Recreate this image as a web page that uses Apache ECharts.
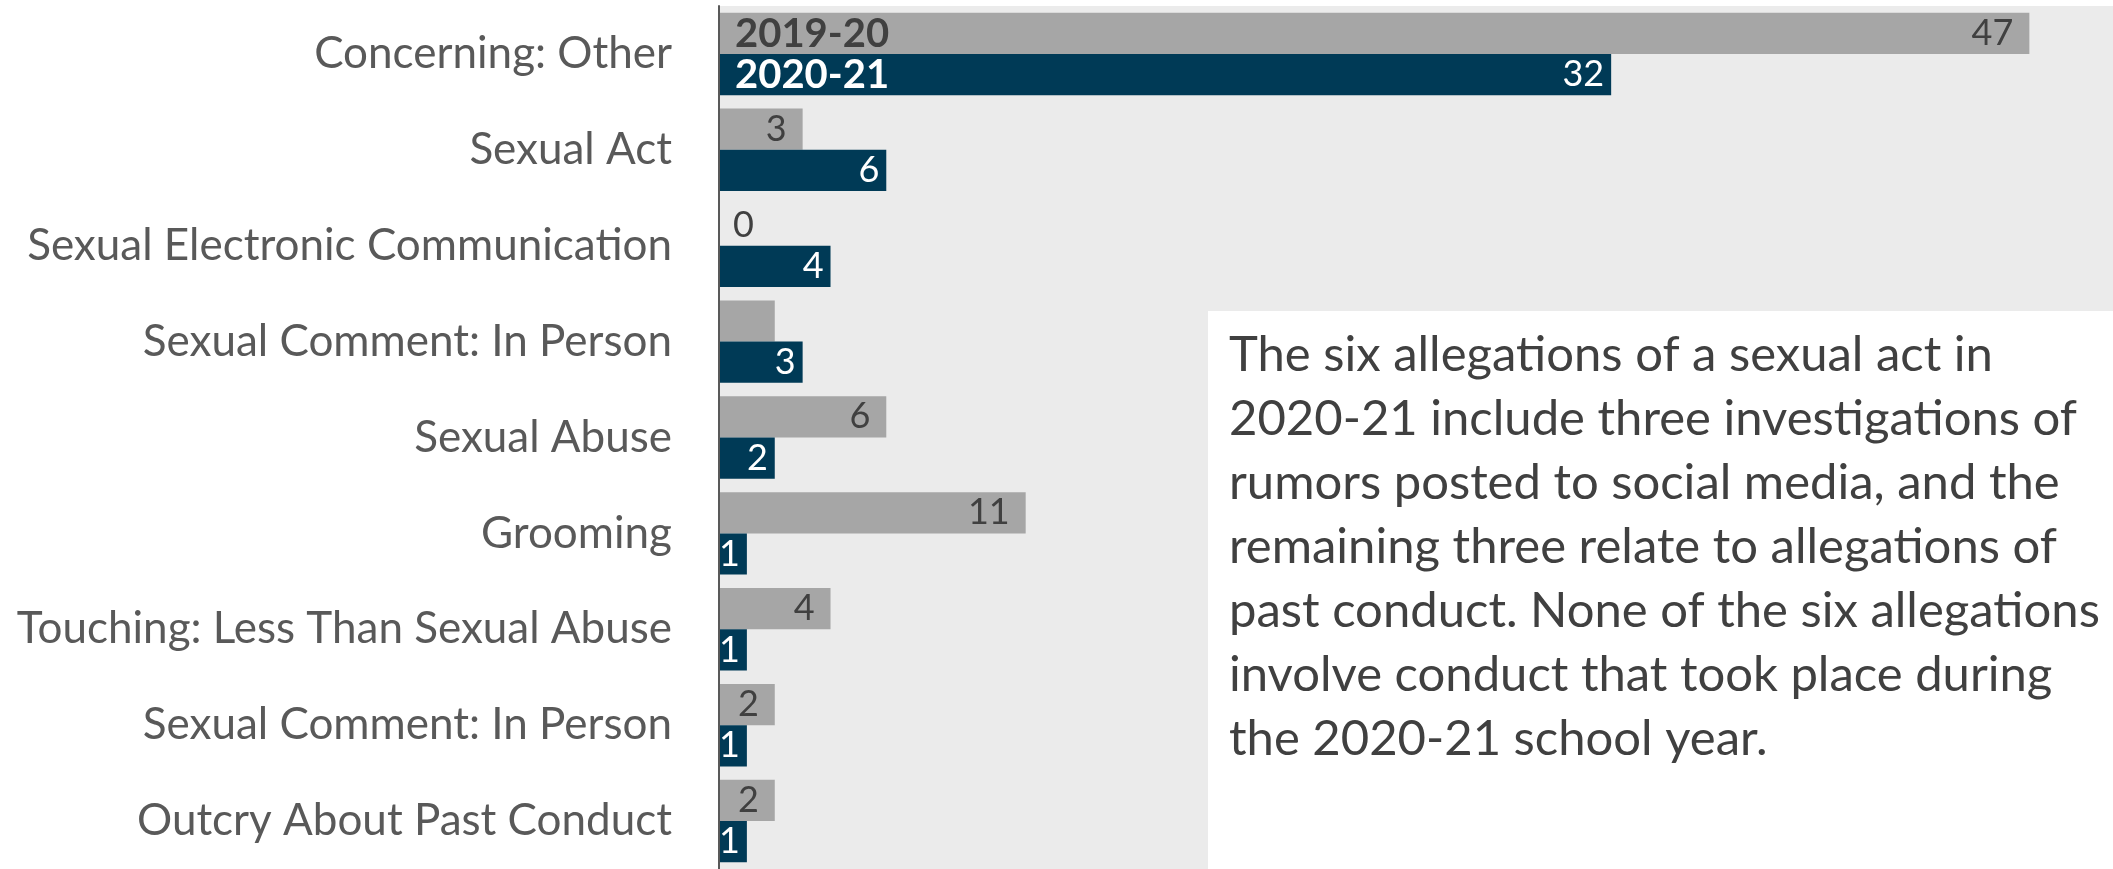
<!DOCTYPE html>
<html>
<head>
<meta charset="utf-8">
<script src="https://cdn.jsdelivr.net/npm/echarts@6/dist/echarts.min.js"></script>
<style>
html,body{margin:0;padding:0;background:#fff;}
#chart{width:2113px;height:869px;}
</style>
</head>
<body>
<div id="chart"></div>
<script>
const categories = [
  'Concerning: Other',
  'Sexual Act',
  'Sexual Electronic Communication',
  'Sexual Comment: In Person',
  'Sexual Abuse',
  'Grooming',
  'Touching: Less Than Sexual Abuse',
  'Sexual Comment: In Person',
  'Outcry About Past Conduct'
];
const seriesNames = ['2019-20', '2020-21'];
const values2019 = [47, 3, 0, 2, 6, 11, 4, 2, 2];
const values2020 = [32, 6, 4, 3, 2, 1, 1, 1, 1];
const hiddenLabels2019 = [3];
const noteLines = [
  'The six allegations of a sexual act in',
  '2020-21 include three investigations of',
  'rumors posted to social media, and the',
  'remaining three relate to allegations of',
  'past conduct. None of the six allegations',
  'involve conduct that took place during',
  'the 2020-21 school year.'
];

const FONT = 'Lato, "Open Sans", sans-serif';
const chart = echarts.init(document.getElementById('chart'));

const data2019 = values2019.map((v, i) => {
  if (hiddenLabels2019.indexOf(i) >= 0) return { value: v, label: { show: false } };
  if (v === 0) return { value: v, label: { position: 'right', distance: 14 } };
  return v;
});

chart.setOption({
  animation: false,
  textStyle: { fontFamily: FONT },
  grid: {
    left: 719, top: 6, width: 1400, height: 868,
    show: true, backgroundColor: '#EBEBEB', borderWidth: 0
  },
  legend: {
    orient: 'vertical', left: 730, top: 13, padding: 0, itemGap: 0,
    itemWidth: 0, itemHeight: 41.5, icon: 'none', selectedMode: false,
    textStyle: { fontFamily: FONT, fontSize: 40, fontWeight: 'bold', lineHeight: 41.5 },
    data: [
      { name: seriesNames[0], textStyle: { color: '#404040' } },
      { name: seriesNames[1], textStyle: { color: '#ffffff' } }
    ]
  },
  xAxis: { type: 'value', min: 0, max: 50, show: false, splitLine: { show: false } },
  yAxis: {
    type: 'category', inverse: true, data: categories,
    axisLine: { show: true, lineStyle: { color: '#595959', width: 2 } },
    axisTick: { show: false },
    axisLabel: { color: '#595959', fontSize: 44, margin: 47, fontFamily: FONT },
    z: 10
  },
  series: [
    {
      name: seriesNames[0], type: 'bar', data: data2019,
      barGap: '0%', barCategoryGap: '14%',
      itemStyle: { color: '#A6A6A6' },
      label: { show: true, position: 'insideRight', distance: 16, color: '#404040', fontSize: 36, fontFamily: FONT }
    },
    {
      name: seriesNames[1], type: 'bar', data: values2020,
      barGap: '0%', barCategoryGap: '14%',
      itemStyle: { color: '#003A56' },
      label: { show: true, position: 'insideRight', distance: 7, color: '#ffffff', fontSize: 36, fontFamily: FONT }
    }
  ],
  graphic: [
    {
      type: 'rect', left: 1208, top: 311, z: 20,
      shape: { width: 905, height: 558 },
      style: { fill: '#ffffff' }
    },
    {
      type: 'text', left: 1229, top: 323, z: 21,
      style: {
        text: noteLines.join('\n'),
        fill: '#404040', fontSize: 49, lineHeight: 64, fontFamily: FONT
      }
    }
  ]
});
</script>
</body>
</html>
